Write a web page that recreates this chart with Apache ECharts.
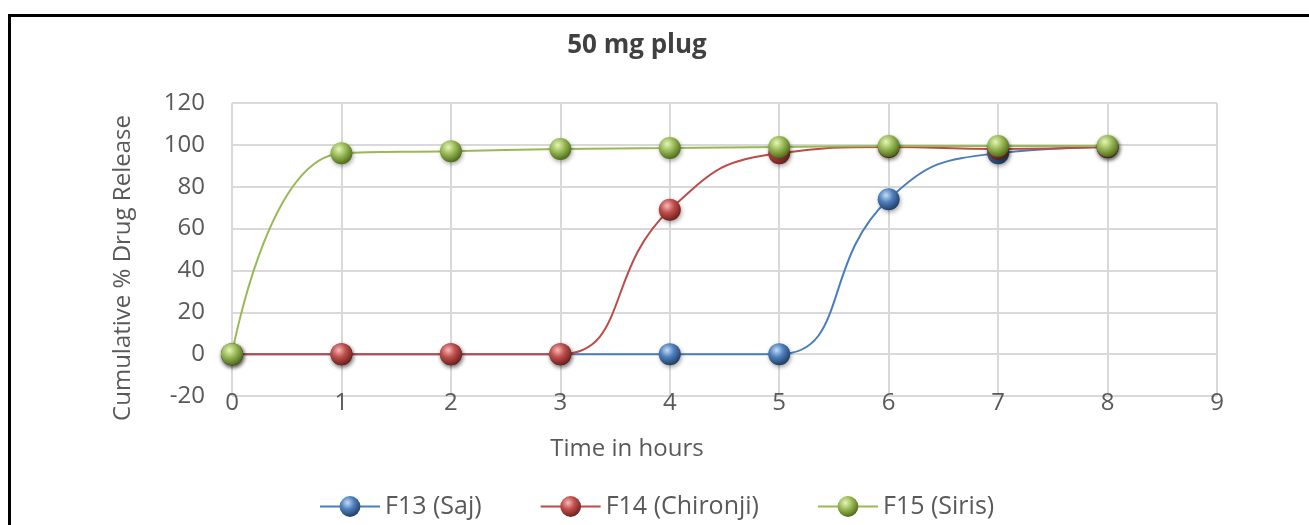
<!DOCTYPE html>
<html>
<head>
<meta charset="utf-8">
<script src="https://cdn.jsdelivr.net/npm/echarts@6/dist/echarts.min.js"></script>
<style>
  body { margin: 0; background: #fff; }
  #chart { width: 1309px; height: 525px; }
  .frame { position: absolute; left: 8px; top: 14px; right: -10px; bottom: -10px; border-top: 3px solid #000; border-left: 3px solid #000; pointer-events: none; }
</style>
</head>
<body>
<div id="chart"></div>
<div class="frame"></div>
<script>
  // hours
  var hours = [0, 1, 2, 3, 4, 5, 6, 7, 8]
  var f13Saj = [0, 0, 0, 0, 0, 0, 74, 96, 99]
  var f14Chironji = [0, 0, 0, 0, 69, 96, 99, 98, 99]
  var f15Siris = [0, 96, 97, 98, 98.5, 99, 99.5, 99.5, 99.5]
  var seriesNames = ['F13 (Saj)', 'F14 (Chironji)', 'F15 (Siris)']

  var font = '"Open Sans", sans-serif'

  function pairs(vals) {
    return hours.map(function (h, i) { return [h, vals[i]] })
  }

  function ball(light, mid, dark) {
    return new echarts.graphic.RadialGradient(0.38, 0.32, 0.7, [
      { offset: 0, color: light },
      { offset: 0.45, color: mid },
      { offset: 1, color: dark }
    ])
  }

  function makeSeries(name, vals, lineColor, light, mid, dark) {
    return {
      name: name,
      type: 'line',
      smooth: 0.5,
      data: pairs(vals),
      symbol: 'circle',
      symbolSize: 22,
      lineStyle: { color: lineColor, width: 2 },
      itemStyle: {
        color: ball(light, mid, dark),
        borderWidth: 0,
        shadowColor: 'rgba(0,0,0,0.35)',
        shadowBlur: 4,
        shadowOffsetX: 1,
        shadowOffsetY: 2
      }
    }
  }

  var chart = echarts.init(document.getElementById('chart'))
  var option = {
    backgroundColor: '#fff',
    animation: false,
    title: [{
      text: '50 mg plug',
      left: 632,
      top: 28,
      textAlign: 'center',
      textStyle: { fontFamily: font, fontSize: 26, fontWeight: 'bold', color: '#404040' }
    }, {
      text: 'Time in hours',
      left: 622,
      top: 432,
      textAlign: 'center',
      textStyle: { fontFamily: font, fontSize: 24, fontWeight: 'normal', color: '#595959' }
    }],
    graphic: [{
      type: 'text',
      x: 123,
      y: 268,
      rotation: Math.PI / 2,
      style: {
        text: 'Cumulative % Drug Release',
        font: '24px ' + font,
        fill: '#595959',
        align: 'center',
        verticalAlign: 'middle'
      }
    }],
    legend: {
      data: seriesNames,
      bottom: 1,
      left: 314,
      itemWidth: 60,
      itemHeight: 26,
      itemGap: 58,
      textStyle: { fontFamily: font, fontSize: 25, color: '#595959' }
    },
    grid: { left: 232, right: 92, top: 103, bottom: 129 },
    xAxis: {
      type: 'value',
      min: 0,
      max: 9,
      interval: 1,
      axisLine: { show: false },
      axisTick: { show: false },
      axisLabel: { fontFamily: font, fontSize: 24, color: '#595959', margin: -5 },
      splitLine: { show: true, lineStyle: { color: '#d9d9d9', width: 2 } }
    },
    yAxis: {
      type: 'value',
      min: -20,
      max: 120,
      interval: 20,
      axisLine: { show: false },
      axisTick: { show: false },
      axisLabel: { fontFamily: font, fontSize: 24, color: '#595959', margin: 27 },
      splitLine: { show: true, lineStyle: { color: '#d9d9d9', width: 2 } }
    },
    series: [
      makeSeries(seriesNames[0], f13Saj, '#4a7ebb', '#c5dcf7', '#4f81bd', '#1f3d63'),
      makeSeries(seriesNames[1], f14Chironji, '#be4b48', '#f6b9b7', '#c0504d', '#6e1e1c'),
      makeSeries(seriesNames[2], f15Siris, '#98b954', '#e6f5b8', '#9bbb59', '#4d6a18')
    ]
  }
  chart.setOption(option)
</script>
</body>
</html>
